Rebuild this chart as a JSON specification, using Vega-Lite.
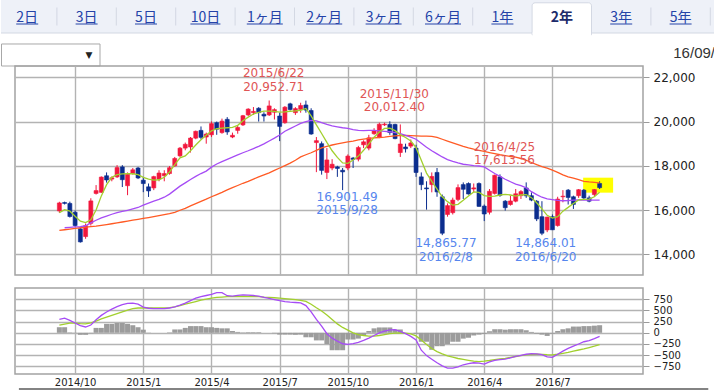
{
  "$schema": "https://vega.github.io/schema/vega-lite/v6.json",
  "padding": 0,
  "autosize": {"type": "pad"},
  "background": "#ffffff",
  "spacing": 13,
  "bounds": "flush",
  "config": {
    "font": "DejaVu Sans",
    "view": {"stroke": null},
    "axis": {"labelColor": "#222222", "gridColor": "#b3b3b3", "gridWidth": 1.4, "tickColor": "#9a9a9a", "domain": false, "labelFlush": false, "labelOverlap": false, "labelBound": false}
  },
  "datasets": {
    "tabs": [
      {"tab": "2日", "i": 0, "active": false}, {"tab": "3日", "i": 1, "active": false}, {"tab": "5日", "i": 2, "active": false},
      {"tab": "10日", "i": 3, "active": false}, {"tab": "1ヶ月", "i": 4, "active": false}, {"tab": "2ヶ月", "i": 5, "active": false},
      {"tab": "3ヶ月", "i": 6, "active": false}, {"tab": "6ヶ月", "i": 7, "active": false}, {"tab": "1年", "i": 8, "active": false},
      {"tab": "2年", "i": 9, "active": true}, {"tab": "3年", "i": 10, "active": false}, {"tab": "5年", "i": 11, "active": false}
    ],
    "notes": [
      {"date": "2015-06-28", "price": 22181, "label": "2015/6/22", "kind": "hi"},
      {"date": "2015-06-28", "price": 21576, "label": "20,952.71", "kind": "hi"},
      {"date": "2015-12-06", "price": 21255, "label": "2015/11/30", "kind": "hi"},
      {"date": "2015-12-06", "price": 20650, "label": "20,012.40", "kind": "hi"},
      {"date": "2016-05-01", "price": 18850, "label": "2016/4/25", "kind": "hi"},
      {"date": "2016-05-01", "price": 18250, "label": "17,613.56", "kind": "hi"},
      {"date": "2015-10-04", "price": 16590, "label": "16,901.49", "kind": "lo"},
      {"date": "2015-10-04", "price": 15990, "label": "2015/9/28", "kind": "lo"},
      {"date": "2016-02-13", "price": 14528, "label": "14,865.77", "kind": "lo"},
      {"date": "2016-02-13", "price": 13896, "label": "2016/2/8", "kind": "lo"},
      {"date": "2016-06-25", "price": 14528, "label": "14,864.01", "kind": "lo"},
      {"date": "2016-06-25", "price": 13896, "label": "2016/6/20", "kind": "lo"}
    ],
    "hl": [{"from": "2016-08-14", "to": "2016-09-23", "lo": 16786, "hi": 17463}],
    "frame": [{"from": "2014-07-23", "to": "2017-01-28", "level": -1258}],
    "weekly": [
      {"date":"2014-09-15","open":15960,"high":16374,"low":15870,"close":16321,"ma13":15883,"ma52":15080,"macd":300,"signal":170,"hist":125},
      {"date":"2014-09-22","open":16340,"high":16380,"low":16250,"close":16300,"ma13":16020,"ma26":15200,"ma52":15110,"macd":330,"signal":195,"hist":125},
      {"date":"2014-09-29","open":16300,"high":16380,"low":15660,"close":15708,"ma13":15950,"ma26":15215,"ma52":15140,"macd":280,"signal":215,"hist":10},
      {"date":"2014-10-06","open":15900,"high":15980,"low":15250,"close":15300,"ma13":15720,"ma26":15235,"ma52":15170,"macd":220,"signal":215,"hist":5},
      {"date":"2014-10-13","open":15150,"high":15200,"low":14529,"close":14560,"ma13":15500,"ma26":15255,"ma52":15200,"macd":160,"signal":205,"hist":-45},
      {"date":"2014-10-20","open":14800,"high":15390,"low":14700,"close":15291,"ma13":15430,"ma26":15290,"ma52":15225,"macd":130,"signal":200,"hist":-45},
      {"date":"2014-10-27","open":15400,"high":16533,"low":15300,"close":16413,"ma13":15560,"ma26":15420,"ma52":15250,"macd":175,"signal":220,"hist":-10},
      {"date":"2014-11-03","open":16750,"high":17128,"low":16700,"close":16880,"ma13":16000,"ma26":15540,"ma52":15275,"macd":290,"signal":260,"hist":110},
      {"date":"2014-11-10","open":16800,"high":17520,"low":16780,"close":17490,"ma13":16640,"ma26":15650,"ma52":15310,"macd":390,"signal":310,"hist":110},
      {"date":"2014-11-17","open":17550,"high":17700,"low":17240,"close":17357,"ma13":17150,"ma26":15730,"ma52":15345,"macd":465,"signal":350,"hist":200},
      {"date":"2014-11-24","open":17400,"high":17520,"low":17300,"close":17459,"ma13":17480,"ma26":15810,"ma52":15380,"macd":530,"signal":390,"hist":200},
      {"date":"2014-12-01","open":17500,"high":18030,"low":17450,"close":17920,"ma13":17600,"ma26":15880,"ma52":15420,"macd":585,"signal":430,"hist":220},
      {"date":"2014-12-08","open":17950,"high":18030,"low":17040,"close":17371,"ma13":17635,"ma26":15935,"ma52":15460,"macd":630,"signal":470,"hist":220},
      {"date":"2014-12-15","open":17100,"high":17700,"low":16672,"close":17621,"ma13":17643,"ma26":15990,"ma52":15500,"macd":660,"signal":510,"hist":200},
      {"date":"2014-12-22","open":17650,"high":17900,"low":17600,"close":17818,"ma13":17640,"ma26":16050,"ma52":15540,"macd":665,"signal":540,"hist":170},
      {"date":"2014-12-29","open":17900,"high":17950,"low":17400,"close":17450,"ma13":17600,"ma26":16115,"ma52":15580,"macd":640,"signal":555,"hist":125},
      {"date":"2015-01-05","open":17350,"high":17500,"low":16808,"close":17197,"ma13":17480,"ma26":16220,"ma52":15620,"macd":575,"signal":555,"hist":70},
      {"date":"2015-01-12","open":17050,"high":17200,"low":16592,"close":16864,"ma13":17400,"ma26":16310,"ma52":15660,"macd":550,"signal":555,"hist":5},
      {"date":"2015-01-19","open":17000,"high":17550,"low":16900,"close":17511,"ma13":17350,"ma26":16400,"ma52":15700,"macd":540,"signal":555,"hist":0},
      {"date":"2015-01-26","open":17400,"high":17800,"low":17300,"close":17674,"ma13":17370,"ma26":16480,"ma52":15745,"macd":540,"signal":557,"hist":0},
      {"date":"2015-02-02","open":17550,"high":17800,"low":17300,"close":17648,"ma13":17480,"ma26":16580,"ma52":15790,"macd":540,"signal":560,"hist":0},
      {"date":"2015-02-09","open":17650,"high":17990,"low":17600,"close":17913,"ma13":17720,"ma26":16720,"ma52":15840,"macd":555,"signal":565,"hist":10},
      {"date":"2015-02-16","open":18000,"high":18400,"low":17950,"close":18332,"ma13":18050,"ma26":16900,"ma52":15900,"macd":580,"signal":580,"hist":75},
      {"date":"2015-02-23","open":18450,"high":18850,"low":18400,"close":18797,"ma13":18360,"ma26":17080,"ma52":15990,"macd":620,"signal":610,"hist":75},
      {"date":"2015-03-02","open":18800,"high":19050,"low":18700,"close":18971,"ma13":18450,"ma26":17230,"ma52":16080,"macd":665,"signal":640,"hist":110},
      {"date":"2015-03-09","open":18850,"high":19300,"low":18600,"close":19254,"ma13":18680,"ma26":17380,"ma52":16190,"macd":720,"signal":670,"hist":150},
      {"date":"2015-03-16","open":19250,"high":19590,"low":19200,"close":19560,"ma13":18940,"ma26":17520,"ma52":16290,"macd":775,"signal":700,"hist":150},
      {"date":"2015-03-23","open":19600,"high":19778,"low":19200,"close":19285,"ma13":19180,"ma26":17650,"ma52":16390,"macd":810,"signal":730,"hist":150},
      {"date":"2015-03-30","open":19300,"high":19500,"low":19000,"close":19435,"ma13":19380,"ma26":17760,"ma52":16490,"macd":835,"signal":755,"hist":125},
      {"date":"2015-04-06","open":19400,"high":20006,"low":19300,"close":19907,"ma13":19580,"ma26":17940,"ma52":16600,"macd":860,"signal":775,"hist":125},
      {"date":"2015-04-13","open":19950,"high":20000,"low":19400,"close":19653,"ma13":19675,"ma26":18080,"ma52":16700,"macd":900,"signal":792,"hist":110},
      {"date":"2015-04-20","open":19500,"high":20133,"low":19450,"close":20020,"ma13":19700,"ma26":18190,"ma52":16800,"macd":900,"signal":800,"hist":100},
      {"date":"2015-04-27","open":20100,"high":20200,"low":19400,"close":19531,"ma13":19720,"ma26":18290,"ma52":16910,"macd":830,"signal":808,"hist":100},
      {"date":"2015-05-04","open":19300,"high":19500,"low":19250,"close":19379,"ma13":19740,"ma26":18390,"ma52":17010,"macd":820,"signal":812,"hist":40},
      {"date":"2015-05-11","open":19600,"high":19800,"low":19450,"close":19732,"ma13":19830,"ma26":18490,"ma52":17110,"macd":840,"signal":813,"hist":20},
      {"date":"2015-05-18","open":19850,"high":20300,"low":19800,"close":20264,"ma13":20040,"ma26":18590,"ma52":17210,"macd":850,"signal":813,"hist":10},
      {"date":"2015-05-25","open":20300,"high":20600,"low":20250,"close":20563,"ma13":20200,"ma26":18680,"ma52":17300,"macd":845,"signal":813,"hist":15},
      {"date":"2015-06-01","open":20400,"high":20655,"low":20300,"close":20460,"ma13":20340,"ma26":18780,"ma52":17400,"macd":835,"signal":813,"hist":15},
      {"date":"2015-06-08","open":20600,"high":20650,"low":20000,"close":20407,"ma13":20420,"ma26":18880,"ma52":17500,"macd":820,"signal":810,"hist":15},
      {"date":"2015-06-15","open":20330,"high":20420,"low":20000,"close":20250,"ma13":20470,"ma26":18990,"ma52":17590,"macd":795,"signal":800,"hist":0},
      {"date":"2015-06-22","open":20300,"high":20952,"low":20250,"close":20706,"ma13":20470,"ma26":19120,"ma52":17680,"macd":770,"signal":793,"hist":0},
      {"date":"2015-06-29","open":20420,"high":20600,"low":20093,"close":20539,"ma13":20460,"ma26":19250,"ma52":17790,"macd":745,"signal":785,"hist":-10},
      {"date":"2015-07-06","open":20250,"high":20400,"low":19115,"close":19780,"ma13":20430,"ma26":19390,"ma52":17900,"macd":720,"signal":775,"hist":-40},
      {"date":"2015-07-13","open":19950,"high":20700,"low":19900,"close":20650,"ma13":20440,"ma26":19560,"ma52":18010,"macd":700,"signal":765,"hist":-40},
      {"date":"2015-07-20","open":20800,"high":20850,"low":20500,"close":20544,"ma13":20465,"ma26":19680,"ma52":18120,"macd":685,"signal":755,"hist":-40},
      {"date":"2015-07-27","open":20400,"high":20650,"low":20300,"close":20585,"ma13":20480,"ma26":19800,"ma52":18250,"macd":678,"signal":742,"hist":-45},
      {"date":"2015-08-03","open":20550,"high":20850,"low":20400,"close":20724,"ma13":20510,"ma26":19920,"ma52":18400,"macd":668,"signal":728,"hist":-40},
      {"date":"2015-08-10","open":20750,"high":20946,"low":20400,"close":20519,"ma13":20590,"ma26":20000,"ma52":18500,"macd":610,"signal":705,"hist":-100},
      {"date":"2015-08-17","open":20500,"high":20600,"low":19400,"close":19436,"ma13":20260,"ma26":20050,"ma52":18590,"macd":470,"signal":640,"hist":-100},
      {"date":"2015-08-24","open":19050,"high":19300,"low":17714,"close":19136,"ma13":19850,"ma26":20030,"ma52":18700,"macd":300,"signal":560,"hist":-170},
      {"date":"2015-08-31","open":19000,"high":19100,"low":17600,"close":17792,"ma13":19460,"ma26":19950,"ma52":18810,"macd":150,"signal":490,"hist":-170},
      {"date":"2015-09-07","open":17700,"high":18800,"low":17400,"close":18264,"ma13":19060,"ma26":19870,"ma52":18880,"macd":-20,"signal":400,"hist":-250},
      {"date":"2015-09-14","open":17900,"high":18300,"low":17800,"close":18070,"ma13":18680,"ma26":19800,"ma52":18940,"macd":-120,"signal":300,"hist":-390},
      {"date":"2015-09-21","open":17950,"high":18000,"low":17500,"close":17880,"ma13":18380,"ma26":19760,"ma52":18990,"macd":-185,"signal":200,"hist":-390},
      {"date":"2015-09-28","open":17800,"high":17900,"low":16901,"close":17725,"ma13":18130,"ma26":19720,"ma52":19040,"macd":-245,"signal":120,"hist":-390},
      {"date":"2015-10-05","open":17900,"high":18515,"low":17800,"close":18438,"ma13":18110,"ma26":19690,"ma52":19080,"macd":-260,"signal":60,"hist":-150},
      {"date":"2015-10-12","open":18350,"high":18400,"low":17900,"close":18291,"ma13":18260,"ma26":19640,"ma52":19120,"macd":-240,"signal":0,"hist":-150},
      {"date":"2015-10-19","open":18300,"high":18900,"low":18200,"close":18825,"ma13":18440,"ma26":19600,"ma52":19170,"macd":-215,"signal":-40,"hist":-130},
      {"date":"2015-10-26","open":18950,"high":19150,"low":18800,"close":19083,"ma13":18700,"ma26":19590,"ma52":19210,"macd":-170,"signal":-60,"hist":-60},
      {"date":"2015-11-02","open":18800,"high":19400,"low":18700,"close":19265,"ma13":18990,"ma26":19600,"ma52":19240,"macd":-120,"signal":-72,"hist":40},
      {"date":"2015-11-09","open":19450,"high":19700,"low":19400,"close":19597,"ma13":19290,"ma26":19600,"ma52":19260,"macd":-60,"signal":-75,"hist":100},
      {"date":"2015-11-16","open":19300,"high":19950,"low":19250,"close":19879,"ma13":19530,"ma26":19580,"ma52":19280,"macd":0,"signal":-60,"hist":120},
      {"date":"2015-11-23","open":19850,"high":19950,"low":19800,"close":19883,"ma13":19690,"ma26":19560,"ma52":19300,"macd":40,"signal":-40,"hist":120},
      {"date":"2015-11-30","open":19870,"high":20012,"low":19400,"close":19504,"ma13":19700,"ma26":19540,"ma52":19330,"macd":65,"signal":-20,"hist":120},
      {"date":"2015-12-07","open":19870,"high":19900,"low":19200,"close":19230,"ma13":19590,"ma26":19500,"ma52":19350,"macd":70,"signal":-5,"hist":75},
      {"date":"2015-12-14","open":18600,"high":19870,"low":18400,"close":18986,"ma13":19410,"ma26":19450,"ma52":19370,"macd":30,"signal":0,"hist":75},
      {"date":"2015-12-21","open":18850,"high":19000,"low":18600,"close":18769,"ma13":19280,"ma26":19380,"ma52":19370,"macd":-20,"signal":-10,"hist":0},
      {"date":"2015-12-28","open":18890,"high":19190,"low":18800,"close":19033,"ma13":19120,"ma26":19300,"ma52":19360,"macd":-80,"signal":-25,"hist":0},
      {"date":"2016-01-04","open":18800,"high":18950,"low":17500,"close":17697,"ma13":18820,"ma26":19200,"ma52":19350,"macd":-160,"signal":-70,"hist":-20},
      {"date":"2016-01-11","open":17500,"high":17700,"low":16900,"close":17147,"ma13":18250,"ma26":19020,"ma52":19340,"macd":-390,"signal":-160,"hist":-200},
      {"date":"2016-01-18","open":17000,"high":17300,"low":16017,"close":16958,"ma13":17670,"ma26":18840,"ma52":19340,"macd":-510,"signal":-260,"hist":-200},
      {"date":"2016-01-25","open":17150,"high":17700,"low":16800,"close":17518,"ma13":17300,"ma26":18680,"ma52":19330,"macd":-590,"signal":-350,"hist":-380},
      {"date":"2016-02-01","open":17700,"high":17900,"low":16600,"close":16819,"ma13":16950,"ma26":18540,"ma52":19280,"macd":-670,"signal":-420,"hist":-300},
      {"date":"2016-02-08","open":16600,"high":16700,"low":14865,"close":14952,"ma13":16600,"ma26":18400,"ma52":19200,"macd":-740,"signal":-470,"hist":-300},
      {"date":"2016-02-15","open":15800,"high":16300,"low":15700,"close":16200,"ma13":16380,"ma26":18280,"ma52":19120,"macd":-790,"signal":-515,"hist":-250},
      {"date":"2016-02-22","open":15880,"high":16560,"low":15800,"close":16450,"ma13":16220,"ma26":18200,"ma52":19040,"macd":-790,"signal":-545,"hist":-200},
      {"date":"2016-02-29","open":16480,"high":17160,"low":16400,"close":17014,"ma13":16260,"ma26":18130,"ma52":18960,"macd":-760,"signal":-575,"hist":-200},
      {"date":"2016-03-07","open":17150,"high":17250,"low":16500,"close":16938,"ma13":16440,"ma26":18070,"ma52":18880,"macd":-715,"signal":-595,"hist":-130},
      {"date":"2016-03-14","open":17200,"high":17250,"low":16700,"close":16724,"ma13":16640,"ma26":18040,"ma52":18810,"macd":-690,"signal":-615,"hist":-110},
      {"date":"2016-03-21","open":16950,"high":17200,"low":16800,"close":17002,"ma13":16820,"ma26":18010,"ma52":18750,"macd":-670,"signal":-635,"hist":-60},
      {"date":"2016-03-28","open":17200,"high":17250,"low":16150,"close":16164,"ma13":16800,"ma26":17990,"ma52":18700,"macd":-680,"signal":-645,"hist":-40},
      {"date":"2016-04-04","open":16180,"high":16250,"low":15500,"close":15821,"ma13":16650,"ma26":17950,"ma52":18650,"macd":-700,"signal":-635,"hist":-25},
      {"date":"2016-04-11","open":15900,"high":16950,"low":15800,"close":16848,"ma13":16620,"ma26":17800,"ma52":18600,"macd":-650,"signal":-620,"hist":35},
      {"date":"2016-04-18","open":16750,"high":17600,"low":16700,"close":17572,"ma13":16630,"ma26":17650,"ma52":18550,"macd":-615,"signal":-600,"hist":80},
      {"date":"2016-04-25","open":17500,"high":17613,"low":16600,"close":16666,"ma13":16680,"ma26":17520,"ma52":18500,"macd":-600,"signal":-585,"hist":80},
      {"date":"2016-05-02","open":16400,"high":16450,"low":15975,"close":16106,"ma13":16705,"ma26":17390,"ma52":18460,"macd":-590,"signal":-570,"hist":70},
      {"date":"2016-05-09","open":16250,"high":16650,"low":16200,"close":16412,"ma13":16680,"ma26":17280,"ma52":18420,"macd":-560,"signal":-550,"hist":80},
      {"date":"2016-05-16","open":16400,"high":16950,"low":16350,"close":16736,"ma13":16630,"ma26":17170,"ma52":18390,"macd":-530,"signal":-530,"hist":80},
      {"date":"2016-05-23","open":16650,"high":16900,"low":16500,"close":16834,"ma13":16680,"ma26":17100,"ma52":18330,"macd":-505,"signal":-510,"hist":80},
      {"date":"2016-05-30","open":17000,"high":17250,"low":16550,"close":16642,"ma13":16700,"ma26":17000,"ma52":18250,"macd":-480,"signal":-495,"hist":60},
      {"date":"2016-06-06","open":16650,"high":16800,"low":16400,"close":16450,"ma13":16560,"ma26":16830,"ma52":18150,"macd":-465,"signal":-485,"hist":20},
      {"date":"2016-06-13","open":16400,"high":16450,"low":15500,"close":15599,"ma13":16330,"ma26":16700,"ma52":18050,"macd":-470,"signal":-480,"hist":-20},
      {"date":"2016-06-20","open":15700,"high":16400,"low":14864,"close":14952,"ma13":16050,"ma26":16580,"ma52":17960,"macd":-490,"signal":-482,"hist":-40},
      {"date":"2016-06-27","open":15100,"high":15700,"low":15000,"close":15682,"ma13":15760,"ma26":16500,"ma52":17890,"macd":-540,"signal":-490,"hist":-70},
      {"date":"2016-07-04","open":15700,"high":15800,"low":15100,"close":15106,"ma13":15640,"ma26":16470,"ma52":17800,"macd":-550,"signal":-495,"hist":-20},
      {"date":"2016-07-11","open":15300,"high":16600,"low":15250,"close":16497,"ma13":15700,"ma26":16440,"ma52":17700,"macd":-480,"signal":-480,"hist":40},
      {"date":"2016-07-18","open":16600,"high":16900,"low":16350,"close":16627,"ma13":15950,"ma26":16420,"ma52":17590,"macd":-410,"signal":-460,"hist":80},
      {"date":"2016-07-25","open":16900,"high":16950,"low":16250,"close":16569,"ma13":16120,"ma26":16430,"ma52":17500,"macd":-350,"signal":-440,"hist":100},
      {"date":"2016-08-01","open":16600,"high":16650,"low":16050,"close":16254,"ma13":16300,"ma26":16450,"ma52":17440,"macd":-300,"signal":-410,"hist":140},
      {"date":"2016-08-08","open":16650,"high":16950,"low":16550,"close":16919,"ma13":16460,"ma26":16460,"ma52":17370,"macd":-250,"signal":-385,"hist":140},
      {"date":"2016-08-15","open":16900,"high":16950,"low":16450,"close":16545,"ma13":16480,"ma26":16455,"ma52":17300,"macd":-200,"signal":-360,"hist":150},
      {"date":"2016-08-22","open":16550,"high":16650,"low":16350,"close":16400,"ma13":16490,"ma26":16452,"ma52":17270,"macd":-175,"signal":-330,"hist":150},
      {"date":"2016-08-29","open":16700,"high":16950,"low":16600,"close":16925,"ma13":16600,"ma26":16452,"ma52":17250,"macd":-130,"signal":-300,"hist":160},
      {"date":"2016-09-05","open":17200,"high":17300,"low":16950,"close":17012,"ma13":16800,"ma26":16452,"ma52":17230,"macd":-80,"signal":-265,"hist":170}
    ]
  },
  "vconcat": [
    {
      "width": 628,
      "height": 53,
      "data": {"name": "tabs"},
      "layer": [
        {
          "data": {"values": [{}]},
          "mark": {"type": "rect", "fill": "#eef1f8"},
          "encoding": {
            "x": {"datum": -0.441, "type": "quantitative", "scale": {"domain": [-0.2054, 10.367], "nice": false, "zero": false}, "axis": null},
            "x2": {"datum": 11.579},
            "y": {"datum": "tabs", "type": "nominal", "scale": {"domain": ["tabs", "controls"], "range": [0, 66], "paddingInner": 0, "paddingOuter": 0}, "axis": null}
          }
        },
        {
          "data": {"values": [{}]},
          "mark": {"type": "rule", "color": "#d3d8e3", "strokeWidth": 1, "yOffset": 16.5},
          "encoding": {
            "x": {"datum": -0.441, "type": "quantitative", "axis": null},
            "x2": {"datum": 11.579},
            "y": {"datum": "tabs", "type": "nominal", "axis": null}
          }
        },
        {
          "transform": [{"filter": "datum.active"}],
          "mark": {"type": "rect", "fill": "#ffffff", "stroke": "#d3d8e3", "strokeWidth": 1, "xOffset": -29.7, "x2Offset": 29.7, "height": {"band": 0.97}, "yOffset": 2.3, "cornerRadiusTopLeft": 3, "cornerRadiusTopRight": 3},
          "encoding": {
            "x": {"field": "i", "type": "quantitative", "axis": null},
            "x2": {"field": "i"},
            "y": {"datum": "tabs", "type": "nominal", "axis": null}
          }
        },
        {
          "transform": [{"filter": "datum.active"}],
          "mark": {"type": "tick", "orient": "horizontal", "color": "#ffffff", "size": 58.5, "thickness": 4, "yOffset": 18, "opacity": 1},
          "encoding": {
            "x": {"field": "i", "type": "quantitative", "axis": null},
            "y": {"datum": "tabs", "type": "nominal", "axis": null}
          }
        },
        {
          "transform": [{"filter": "indexof([1,2,3,4,5,6,7,8,11], datum.i) >= 0"}],
          "mark": {"type": "tick", "orient": "vertical", "color": "#d3d8e3", "size": 18, "thickness": 1, "xOffset": -29.7, "opacity": 1},
          "encoding": {
            "x": {"field": "i", "type": "quantitative", "axis": null},
            "y": {"datum": "tabs", "type": "nominal", "axis": null}
          }
        },
        {
          "transform": [{"filter": "datum.i === 11"}],
          "mark": {"type": "tick", "orient": "vertical", "color": "#d3d8e3", "size": 18, "thickness": 1, "xOffset": 29.7, "opacity": 1},
          "encoding": {
            "x": {"field": "i", "type": "quantitative", "axis": null},
            "y": {"datum": "tabs", "type": "nominal", "axis": null}
          }
        },
        {
          "transform": [{"filter": "!datum.active"}],
          "mark": {"type": "tick", "orient": "horizontal", "color": "#2443a8", "thickness": 1, "yOffset": 7.5, "opacity": 1},
          "encoding": {
            "x": {"field": "i", "type": "quantitative", "axis": null},
            "y": {"datum": "tabs", "type": "nominal", "axis": null},
            "size": {"condition": [{"test": "indexof(datum.tab, 'ヶ') >= 0", "value": 36}, {"test": "datum.tab === '10日'", "value": 30}], "value": 22}
          }
        },
        {
          "transform": [{"filter": "!datum.active"}],
          "mark": {"type": "text", "font": "Noto Sans CJK JP", "fontSize": 14, "color": "#2443a8", "dy": 1.5},
          "encoding": {
            "x": {"field": "i", "type": "quantitative", "axis": null},
            "y": {"datum": "tabs", "type": "nominal", "axis": null},
            "text": {"field": "tab"}
          }
        },
        {
          "transform": [{"filter": "datum.active"}],
          "mark": {"type": "text", "font": "Noto Sans CJK JP", "fontSize": 14, "fontWeight": "bold", "color": "#1d2b6b", "dy": 1.5},
          "encoding": {
            "x": {"field": "i", "type": "quantitative", "axis": null},
            "y": {"datum": "tabs", "type": "nominal", "axis": null},
            "text": {"field": "tab"}
          }
        },
        {
          "data": {"values": [{}]},
          "mark": {"type": "rect", "fill": "#ffffff", "stroke": "#a8a8a8", "strokeWidth": 1, "height": {"band": 0.6667}, "yOffset": 5.5},
          "encoding": {
            "x": {"datum": -0.4326, "type": "quantitative", "axis": null},
            "x2": {"datum": 1.2256},
            "y": {"datum": "controls", "type": "nominal", "axis": null}
          }
        },
        {
          "data": {"values": [{}]},
          "mark": {"type": "text", "text": "▼", "fontSize": 9, "color": "#222222", "dy": 5},
          "encoding": {
            "x": {"datum": 1.0404, "type": "quantitative", "axis": null},
            "y": {"datum": "controls", "type": "nominal", "axis": null}
          }
        },
        {
          "data": {"values": [{}]},
          "mark": {"type": "text", "text": "16/09/", "font": "Liberation Sans", "fontSize": 15, "color": "#333333", "align": "right", "dy": 3.8},
          "encoding": {
            "x": {"datum": 11.579, "type": "quantitative", "axis": null},
            "y": {"datum": "controls", "type": "nominal", "axis": null}
          }
        }
      ]
    },
    {
      "width": 628,
      "height": 209,
      "view": {"stroke": "#a3a3a3", "strokeWidth": 1.5},
      "data": {"name": "weekly"},
      "encoding": {
        "x": {
          "field": "date", "type": "temporal", "title": null,
          "scale": {"type": "utc", "domain": [{"year": 2014, "month": 7, "date": 24, "hours": 11, "utc": true}, {"year": 2016, "month": 10, "date": 26, "hours": 5, "utc": true}]},
          "axis": {
            "values": [{"year": 2014, "month": 10, "date": 6, "utc": true}, {"year": 2015, "month": 1, "date": 5, "utc": true}, {"year": 2015, "month": 4, "date": 6, "utc": true}, {"year": 2015, "month": 7, "date": 6, "utc": true}, {"year": 2015, "month": 10, "date": 5, "utc": true}, {"year": 2016, "month": 1, "date": 4, "utc": true}, {"year": 2016, "month": 4, "date": 4, "utc": true}, {"year": 2016, "month": 7, "date": 4, "utc": true}],
            "grid": true, "labels": false, "ticks": false, "domain": false
          }
        }
      },
      "layer": [
        {
          "data": {"name": "hl"},
          "mark": {"type": "rect", "color": "#ffff00"},
          "encoding": {
            "x": {
              "field": "from", "type": "temporal", "title": null,
              "scale": {"type": "utc", "domain": [{"year": 2014, "month": 7, "date": 24, "hours": 11, "utc": true}, {"year": 2016, "month": 10, "date": 26, "hours": 5, "utc": true}]},
              "axis": {
                "values": [{"year": 2014, "month": 10, "date": 6, "utc": true}, {"year": 2015, "month": 1, "date": 5, "utc": true}, {"year": 2015, "month": 4, "date": 6, "utc": true}, {"year": 2015, "month": 7, "date": 6, "utc": true}, {"year": 2015, "month": 10, "date": 5, "utc": true}, {"year": 2016, "month": 1, "date": 4, "utc": true}, {"year": 2016, "month": 4, "date": 4, "utc": true}, {"year": 2016, "month": 7, "date": 4, "utc": true}],
                "grid": true, "labels": false, "ticks": false, "domain": false
              }
            },
            "x2": {"field": "to"},
            "y": {"field": "lo", "type": "quantitative", "title": null, "scale": {"domain": [13064, 22511], "zero": false, "nice": false},
              "axis": {"orient": "right", "values": [14000, 16000, 18000, 20000, 22000], "labelExpr": "format(datum.value, ',')", "grid": true, "tickSize": 6, "labelPadding": 4, "labelFontSize": 12, "labelOverlap": false}},
            "y2": {"field": "hi"}
          }
        },
        {
          "mark": {"type": "rule", "strokeWidth": 1},
          "encoding": {
            "y": {"field": "low", "type": "quantitative", "title": null, "scale": {"domain": [13064, 22511], "zero": false, "nice": false},
              "axis": {"orient": "right", "values": [14000, 16000, 18000, 20000, 22000], "labelExpr": "format(datum.value, ',')", "grid": true, "tickSize": 6, "labelPadding": 4, "labelFontSize": 12, "labelOverlap": false}},
            "y2": {"field": "high"},
            "color": {"condition": {"test": "datum.close >= datum.open", "value": "#f2173d"}, "value": "#0b2d8e"}
          }
        },
        {
          "mark": {"type": "bar", "size": 4, "strokeWidth": 0.6},
          "encoding": {
            "y": {"field": "open", "type": "quantitative", "title": null, "scale": {"domain": [13064, 22511], "zero": false, "nice": false},
              "axis": {"orient": "right", "values": [14000, 16000, 18000, 20000, 22000], "labelExpr": "format(datum.value, ',')", "grid": true, "tickSize": 6, "labelPadding": 4, "labelFontSize": 12, "labelOverlap": false}},
            "y2": {"field": "close"},
            "fill": {"condition": {"test": "datum.close >= datum.open", "value": "#f2173d"}, "value": "#0b2d8e"},
            "stroke": {"condition": {"test": "datum.close >= datum.open", "value": "#f2173d"}, "value": "#0b2d8e"}
          }
        },
        {
          "mark": {"type": "line", "color": "#ff5a24", "strokeWidth": 1.3},
          "encoding": {"y": {"field": "ma52", "type": "quantitative", "title": null, "scale": {"domain": [13064, 22511], "zero": false, "nice": false},
            "axis": {"orient": "right", "values": [14000, 16000, 18000, 20000, 22000], "labelExpr": "format(datum.value, ',')", "grid": true, "tickSize": 6, "labelPadding": 4, "labelFontSize": 12, "labelOverlap": false}}}
        },
        {
          "mark": {"type": "line", "color": "#a64cf5", "strokeWidth": 1.3},
          "encoding": {"y": {"field": "ma26", "type": "quantitative", "title": null, "scale": {"domain": [13064, 22511], "zero": false, "nice": false},
            "axis": {"orient": "right", "values": [14000, 16000, 18000, 20000, 22000], "labelExpr": "format(datum.value, ',')", "grid": true, "tickSize": 6, "labelPadding": 4, "labelFontSize": 12, "labelOverlap": false}}}
        },
        {
          "mark": {"type": "line", "color": "#a2d02e", "strokeWidth": 1.3},
          "encoding": {"y": {"field": "ma13", "type": "quantitative", "title": null, "scale": {"domain": [13064, 22511], "zero": false, "nice": false},
            "axis": {"orient": "right", "values": [14000, 16000, 18000, 20000, 22000], "labelExpr": "format(datum.value, ',')", "grid": true, "tickSize": 6, "labelPadding": 4, "labelFontSize": 12, "labelOverlap": false}}}
        },
        {
          "data": {"name": "notes"},
          "mark": {"type": "text", "fontSize": 12, "font": "DejaVu Sans"},
          "encoding": {
            "y": {"field": "price", "type": "quantitative", "title": null, "scale": {"domain": [13064, 22511], "zero": false, "nice": false},
              "axis": {"orient": "right", "values": [14000, 16000, 18000, 20000, 22000], "labelExpr": "format(datum.value, ',')", "grid": true, "tickSize": 6, "labelPadding": 4, "labelFontSize": 12, "labelOverlap": false}},
            "text": {"field": "label"},
            "color": {"condition": {"test": "datum.kind === 'hi'", "value": "#e05555"}, "value": "#5686ee"}
          }
        }
      ]
    },
    {
      "width": 628,
      "height": 86,
      "view": {"stroke": "#a3a3a3", "strokeWidth": 1.5},
      "data": {"name": "weekly"},
      "encoding": {
        "x": {
          "field": "date", "type": "temporal", "title": null,
          "scale": {"type": "utc", "domain": [{"year": 2014, "month": 7, "date": 24, "hours": 11, "utc": true}, {"year": 2016, "month": 10, "date": 26, "hours": 5, "utc": true}]},
          "axis": {
            "values": [{"year": 2014, "month": 10, "date": 6, "utc": true}, {"year": 2015, "month": 1, "date": 5, "utc": true}, {"year": 2015, "month": 4, "date": 6, "utc": true}, {"year": 2015, "month": 7, "date": 6, "utc": true}, {"year": 2015, "month": 10, "date": 5, "utc": true}, {"year": 2016, "month": 1, "date": 4, "utc": true}, {"year": 2016, "month": 4, "date": 4, "utc": true}, {"year": 2016, "month": 7, "date": 4, "utc": true}],
            "grid": true, "ticks": false, "domain": false, "labelPadding": 3, "labelFontSize": 10,
            "labelExpr": "utcFormat(datum.value, '%Y/%-m')"
          }
        }
      },
      "layer": [
        {
          "mark": {"type": "bar", "size": 5, "color": "#9c9c9c"},
          "encoding": {
            "y": {"field": "hist", "type": "quantitative", "title": null, "scale": {"domain": [-922, 1003], "zero": false, "nice": false},
              "axis": {"orient": "right", "values": [-750, -500, -250, 0, 250, 500, 750], "labelExpr": "format(datum.value, 'd')", "grid": true, "tickSize": 6, "labelPadding": 4, "labelFontSize": 10, "labelOverlap": false}}
          }
        },
        {
          "mark": {"type": "line", "color": "#a2d02e", "strokeWidth": 1.3},
          "encoding": {"y": {"field": "signal", "type": "quantitative", "title": null, "scale": {"domain": [-922, 1003], "zero": false, "nice": false},
            "axis": {"orient": "right", "values": [-750, -500, -250, 0, 250, 500, 750], "labelExpr": "format(datum.value, 'd')", "grid": true, "tickSize": 6, "labelPadding": 4, "labelFontSize": 10, "labelOverlap": false}}}
        },
        {
          "mark": {"type": "line", "color": "#a64cf5", "strokeWidth": 1.3},
          "encoding": {"y": {"field": "macd", "type": "quantitative", "title": null, "scale": {"domain": [-922, 1003], "zero": false, "nice": false},
            "axis": {"orient": "right", "values": [-750, -500, -250, 0, 250, 500, 750], "labelExpr": "format(datum.value, 'd')", "grid": true, "tickSize": 6, "labelPadding": 4, "labelFontSize": 10, "labelOverlap": false}}}
        },
        {
          "data": {"name": "frame"},
          "mark": {"type": "rule", "color": "#5a5a5a", "strokeWidth": 1.5},
          "encoding": {
            "x": {
              "field": "from", "type": "temporal", "title": null,
              "scale": {"type": "utc", "domain": [{"year": 2014, "month": 7, "date": 24, "hours": 11, "utc": true}, {"year": 2016, "month": 10, "date": 26, "hours": 5, "utc": true}]},
              "axis": {
                "values": [{"year": 2014, "month": 10, "date": 6, "utc": true}, {"year": 2015, "month": 1, "date": 5, "utc": true}, {"year": 2015, "month": 4, "date": 6, "utc": true}, {"year": 2015, "month": 7, "date": 6, "utc": true}, {"year": 2015, "month": 10, "date": 5, "utc": true}, {"year": 2016, "month": 1, "date": 4, "utc": true}, {"year": 2016, "month": 4, "date": 4, "utc": true}, {"year": 2016, "month": 7, "date": 4, "utc": true}],
                "grid": true, "ticks": false, "domain": false, "labelPadding": 3, "labelFontSize": 10,
                "labelExpr": "utcFormat(datum.value, '%Y/%-m')"
              }
            },
            "x2": {"field": "to"},
            "y": {"field": "level", "type": "quantitative", "title": null, "scale": {"domain": [-922, 1003], "zero": false, "nice": false},
              "axis": {"orient": "right", "values": [-750, -500, -250, 0, 250, 500, 750], "labelExpr": "format(datum.value, 'd')", "grid": true, "tickSize": 6, "labelPadding": 4, "labelFontSize": 10, "labelOverlap": false}}
          }
        }
      ]
    }
  ]
}
